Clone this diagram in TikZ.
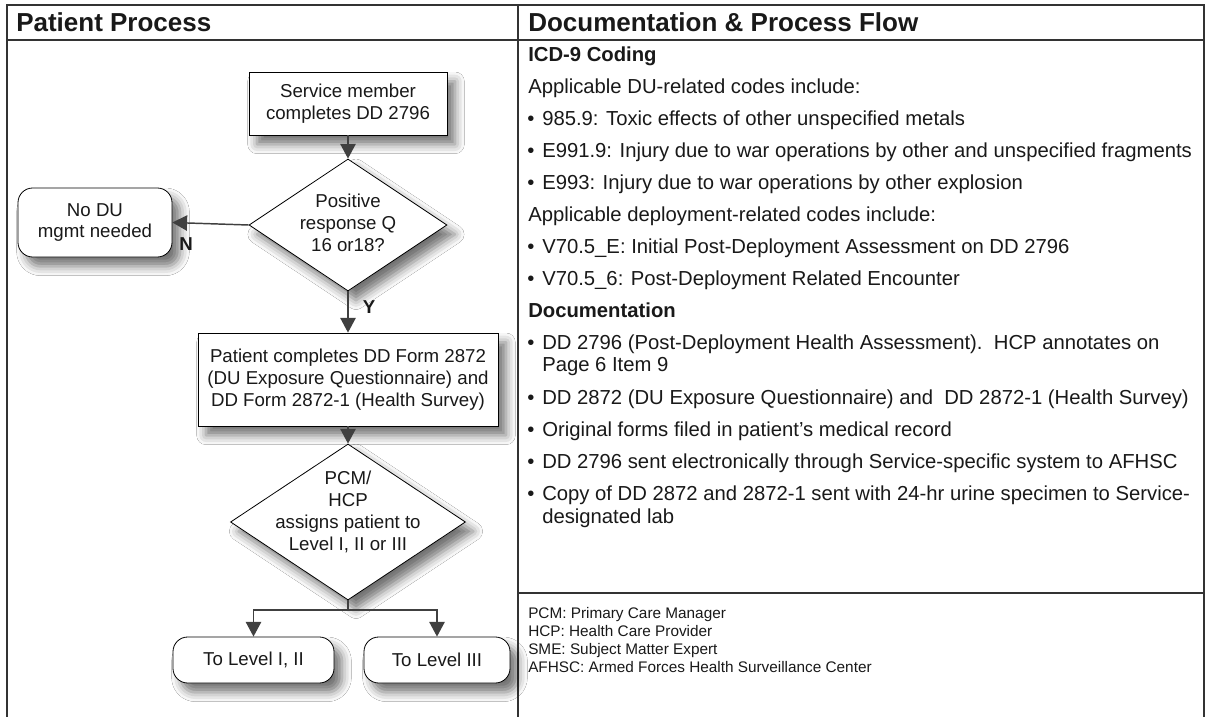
\documentclass[tikz,border=0pt]{standalone}
\usepackage{fontspec}
\setmainfont{Liberation Sans}
\usetikzlibrary{shapes.geometric,arrows.meta,shadows.blur}
\newcommand{\bul}{\makebox[11.25pt][l]{\textbullet}}
\newcommand{\ind}{\hspace*{11.25pt}}
\begin{document}
\begin{tikzpicture}[x=0.75pt,y=-0.75pt,
  frame/.style={line width=1.5pt,draw=black!80},
  shd/.style={blur shadow={shadow xshift=6pt,shadow yshift=-7pt,shadow blur radius=7pt,shadow opacity=55}},
  procbox/.style={draw=black,line width=0.6pt,fill=white,shd,inner sep=0pt,font=\fontsize{14}{16.3}\selectfont,align=center,text=black!90},
  termbox/.style={procbox,rounded corners=11pt},
  decbox/.style={diamond,draw=black,line width=0.6pt,fill=white,shd,inner sep=0pt},
  dectext/.style={font=\fontsize{14}{16.3}\selectfont,align=center,inner sep=0pt,text=black!90},
  conn/.style={line width=1.1pt,draw=black!75},
  arr/.style={conn,-{Triangle[width=11.5pt,length=11pt]}},
  lbl/.style={font=\fontsize{14}{16}\bfseries\selectfont,text=black!90},
  hdr/.style={anchor=west,font=\fontsize{19.5}{22}\bfseries\selectfont,inner sep=0pt,text=black!90},
  body/.style={anchor=base west,inner sep=0pt,font=\fontsize{15.2}{18}\selectfont,text=black!90},
  bhead/.style={body,font=\fontsize{15.2}{18}\bfseries\selectfont},
  legend/.style={anchor=base west,inner sep=0pt,font=\fontsize{11.5}{13.5}\selectfont,text=black!90},
]
\useasboundingbox (0,0) rectangle (1207,717);
\fill[white] (0,0) rectangle (1207,717);

% frame
\draw[frame] (6,5) -- (1204,5);
\draw[frame] (6,40) -- (1204,40);
\draw[frame] (6.5,4.3) -- (6.5,717);
\draw[frame] (518,4.3) -- (518,717);
\draw[frame] (1204,4.3) -- (1204,717);
\draw[frame] (518,593) -- (1204,593);

% headers
\node[hdr] (h1) at (16,22) {Patient Process};
\node[hdr] (h2) at (528,22) {Documentation \& Process Flow};

% flow chart
\node[procbox,minimum width=148.5pt,minimum height=47.25pt] (s1) at (348,103.5) {Service member\\completes DD 2796};
\node[decbox,minimum width=148.5pt,minimum height=99pt] (d1) at (348,225) {};
\node[dectext] (d1t) at (348,223) {Positive\\response Q\\16 or18?};
\node[termbox,minimum width=115.5pt,minimum height=51.75pt] (n1) at (95,222.5) {No DU\\mgmt needed};
\node[procbox,minimum width=225pt,minimum height=69.75pt] (b2) at (348,379.5) {Patient completes DD Form 2872\\(DU Exposure Questionnaire) and\\DD Form 2872-1 (Health Survey)};
\node[decbox,minimum width=176.25pt,minimum height=117pt] (d2) at (348,522) {};
\node[dectext] (d2t) at (348,512) {PCM/\\HCP\\assigns patient to\\Level I, II or III};
\node[termbox,minimum width=120.75pt,minimum height=34.5pt] (l1) at (253.5,660) {To Level I, II};
\node[termbox,minimum width=109.5pt,minimum height=34.5pt] (l2) at (437,660) {To Level III};

\draw[arr] (s1.south) -- (d1.north);
\draw[arr] (d1.west) -- (n1.east);
\draw[arr] (d1.south) -- (b2.north);
\draw[arr] (b2.south) -- (d2.north);
\coordinate (split) at (348,610);
\draw[conn] (d2.south) -- (split);
\draw[arr] (split) -| (l1.north);
\draw[arr] (split) -| (l2.north);
\node[lbl] (lN) at (186,244) {N};
\node[lbl] (lY) at (369,307) {Y};

% right column
\node[bhead] (t1) at (528,62) {ICD-9 Coding};
\node[body] (t2) at (528,93.5) {Applicable DU-related codes include:};
\node[body] (t3) at (527,125) {\bul 985.9: Toxic effects of other unspecified metals};
\node[body] (t4) at (527,157) {\bul E991.9: Injury due to war operations by other and unspecified fragments};
\node[body] (t5) at (527,189) {\bul E993: Injury due to war operations by other explosion};
\node[body] (t6) at (528,221) {Applicable deployment-related codes include:};
\node[body] (t7) at (527,253) {\bul V70.5\_E: Initial Post-Deployment Assessment on DD 2796};
\node[body] (t8) at (527,285) {\bul V70.5\_6: Post-Deployment Related Encounter};
\node[bhead] (t9) at (528,317) {Documentation};
\node[body] (t10) at (527,349) {\bul DD 2796 (Post-Deployment Health Assessment).\ \ HCP annotates on};
\node[body] (t10b) at (527,371.5) {\ind Page 6 Item 9};
\node[body] (t11) at (527,404) {\bul DD 2872 (DU Exposure Questionnaire) and\ \ DD 2872-1 (Health Survey)};
\node[body] (t12) at (527,436) {\bul Original forms filed in patient’s medical record};
\node[body] (t13) at (527,468) {\bul DD 2796 sent electronically through Service-specific system to AFHSC};
\node[body] (t14) at (527,500) {\bul Copy of DD 2872 and 2872-1 sent with 24-hr urine specimen to Service-};
\node[body] (t14b) at (527,523) {\ind designated lab};

\node[legend] (g1) at (528,618) {PCM: Primary Care Manager};
\node[legend] (g2) at (528,636) {HCP: Health Care Provider};
\node[legend] (g3) at (528,654) {SME: Subject Matter Expert};
\node[legend] (g4) at (528,672) {AFHSC: Armed Forces Health Surveillance Center};
\end{tikzpicture}
\end{document}
